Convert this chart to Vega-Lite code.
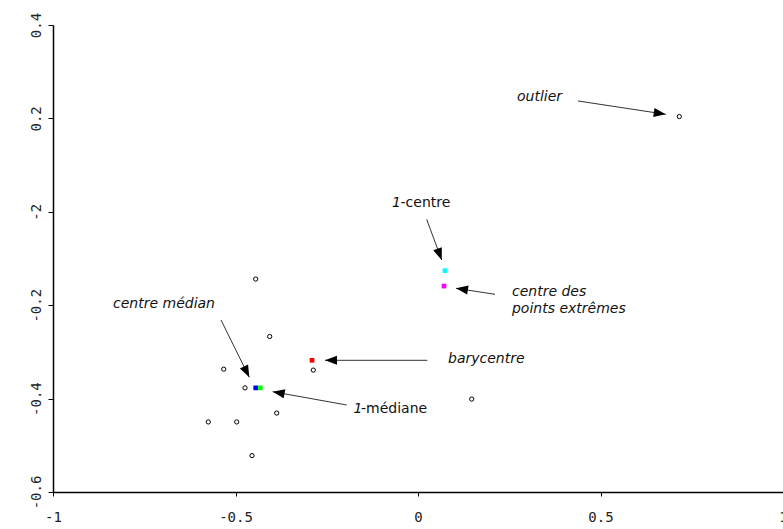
{
  "$schema": "https://vega.github.io/schema/vega-lite/v6.json",
  "width": 730,
  "height": 467,
  "autosize": {"type": "none"},
  "padding": {"left": 53, "top": 25, "right": 0, "bottom": 37},
  "background": "white",
  "config": {"view": {"stroke": null}},
  "datasets": {
    "points": [
      {"x": -0.4447, "y": -0.144},
      {"x": -0.4063, "y": -0.267},
      {"x": -0.5323, "y": -0.337},
      {"x": -0.474, "y": -0.377},
      {"x": -0.2868, "y": -0.339},
      {"x": -0.3871, "y": -0.431},
      {"x": -0.5745, "y": -0.45},
      {"x": -0.4967, "y": -0.45},
      {"x": -0.4548, "y": -0.522},
      {"x": 0.7159, "y": 0.204},
      {"x": 0.1471, "y": -0.401}
    ],
    "centres": [
      {"centre": "barycentre", "x": -0.2904, "y": -0.318},
      {"centre": "centre médian", "x": -0.4447, "y": -0.377},
      {"centre": "1-médiane", "x": -0.4321, "y": -0.377},
      {"centre": "1-centre", "x": 0.074, "y": -0.126},
      {"centre": "centre des points extrêmes", "x": 0.0712, "y": -0.159}
    ],
    "arrows": [
      {"target": "outlier", "x": 0.4384, "y": 0.2373, "x2": 0.6786, "y2": 0.2088, "angle": 8.6},
      {"target": "1-centre", "x": 0.0238, "y": -0.0161, "x2": 0.0649, "y2": -0.1032, "angle": 69.8},
      {"target": "centre des points extrêmes", "x": 0.211, "y": -0.1767, "x2": 0.1041, "y2": -0.1638, "angle": 188.7},
      {"target": "centre médian", "x": -0.5397, "y": -0.2317, "x2": -0.4622, "y2": -0.3544, "angle": 63.7},
      {"target": "barycentre", "x": 0.0255, "y": -0.318, "x2": -0.2548, "y2": -0.318, "angle": 180},
      {"target": "1-médiane", "x": -0.1953, "y": -0.4137, "x2": -0.3981, "y2": -0.3852, "angle": 190.2}
    ],
    "labels": [
      {"text": "outlier", "style": "italic", "x": 0.2712, "y": 0.2458},
      {"text": "1", "style": "italic", "x": -0.0712, "y": 0.0188},
      {"text": "-centre", "style": "normal", "x": -0.0479, "y": 0.0188},
      {"text": "centre des", "style": "italic", "x": 0.2575, "y": -0.1717},
      {"text": "points extrêmes", "style": "italic", "x": 0.2575, "y": -0.2081},
      {"text": "centre médian", "style": "italic", "x": -0.8356, "y": -0.1974},
      {"text": "barycentre", "style": "italic", "x": 0.0822, "y": -0.3152},
      {"text": "1", "style": "italic", "x": -0.1767, "y": -0.4223},
      {"text": "-médiane", "style": "normal", "x": -0.1562, "y": -0.4223}
    ]
  },
  "layer": [
    {
      "data": {"name": "points"},
      "mark": {"type": "point", "shape": "circle", "filled": false, "stroke": "black", "strokeWidth": 1, "size": 18, "opacity": 1},
      "encoding": {
        "x": {
          "field": "x", "type": "quantitative",
          "scale": {"domain": [-1, 1], "nice": false, "zero": false},
          "axis": {
            "title": null, "grid": false, "values": [-1, -0.5, 0, 0.5, 1],
            "labelExpr": "replace(format(datum.value, '~g'), '−', '-')",
            "domainColor": "black", "domainWidth": 1.5, "tickColor": "black", "tickSize": 4, "tickWidth": 1,
            "labelFont": "DejaVu Sans Mono", "labelFontSize": 14, "labelColor": "#222", "labelPadding": 14, "labelFlush": false
          }
        },
        "y": {
          "field": "y", "type": "quantitative",
          "scale": {"domain": [-0.6, 0.4], "nice": false, "zero": false},
          "axis": {
            "title": null, "grid": false, "values": [-0.6, -0.4, -0.2, 0, 0.2, 0.4],
            "labelExpr": "datum.value == 0 ? '-2' : replace(format(datum.value, '~g'), '−', '-')",
            "labelAngle": -90, "labelAlign": "center", "labelBaseline": "bottom",
            "domainColor": "black", "domainWidth": 1.5, "tickColor": "black", "tickSize": 5, "tickWidth": 1,
            "labelFont": "DejaVu Sans Mono", "labelFontSize": 14, "labelColor": "#222", "labelPadding": 5, "labelFlush": false
          }
        }
      }
    },
    {
      "data": {"name": "centres"},
      "mark": {"type": "point", "shape": "square", "filled": true, "size": 22, "opacity": 1},
      "encoding": {
        "x": {"field": "x", "type": "quantitative"},
        "y": {"field": "y", "type": "quantitative"},
        "color": {
          "field": "centre", "type": "nominal", "legend": null,
          "scale": {
            "domain": ["barycentre", "centre médian", "1-médiane", "1-centre", "centre des points extrêmes"],
            "range": ["#ff0000", "#0000ff", "#00ff00", "#00ffff", "#ff00ff"]
          }
        }
      }
    },
    {
      "data": {"name": "arrows"},
      "mark": {"type": "rule", "color": "#333333", "strokeWidth": 1},
      "encoding": {
        "x": {"field": "x", "type": "quantitative"},
        "y": {"field": "y", "type": "quantitative"},
        "x2": {"field": "x2"},
        "y2": {"field": "y2"}
      }
    },
    {
      "data": {"name": "arrows"},
      "mark": {"type": "point", "shape": "M0,0L-1,-0.38L-1,0.38Z", "filled": true, "color": "black", "size": 576, "opacity": 1},
      "encoding": {
        "x": {"field": "x2", "type": "quantitative"},
        "y": {"field": "y2", "type": "quantitative"},
        "angle": {"field": "angle", "type": "quantitative", "scale": null}
      }
    },
    {
      "data": {"name": "labels"},
      "transform": [{"filter": "datum.style == 'italic'"}],
      "mark": {"type": "text", "align": "left", "baseline": "middle", "font": "DejaVu Sans", "fontSize": 14, "fontStyle": "italic", "color": "#111"},
      "encoding": {
        "x": {"field": "x", "type": "quantitative"},
        "y": {"field": "y", "type": "quantitative"},
        "text": {"field": "text"}
      }
    },
    {
      "data": {"name": "labels"},
      "transform": [{"filter": "datum.style == 'normal'"}],
      "mark": {"type": "text", "align": "left", "baseline": "middle", "font": "DejaVu Sans", "fontSize": 14, "color": "#111"},
      "encoding": {
        "x": {"field": "x", "type": "quantitative"},
        "y": {"field": "y", "type": "quantitative"},
        "text": {"field": "text"}
      }
    }
  ]
}
